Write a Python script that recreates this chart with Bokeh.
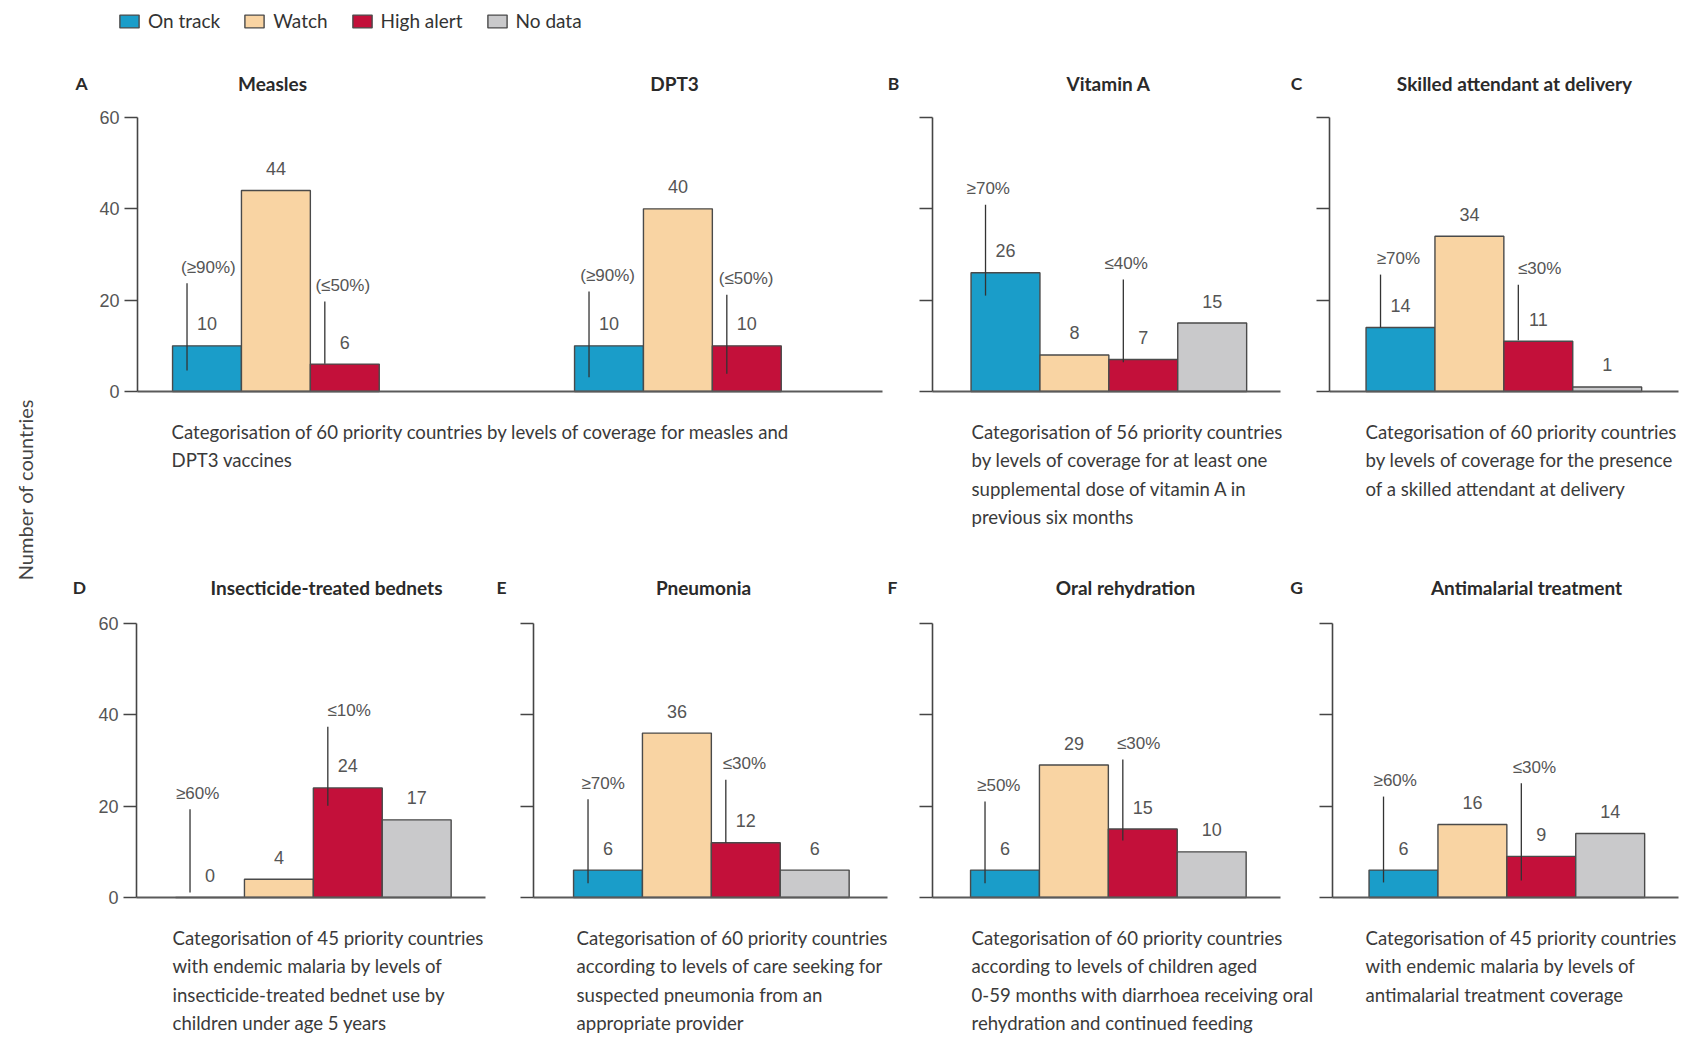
import math
from bokeh.plotting import figure
from bokeh.models import (ColumnDataSource, Range1d, FixedTicker, LinearAxis,
                          Legend, LegendItem)
from bokeh.embed import file_html
from bokeh.resources import INLINE
from bokeh.core.properties import value

# ---------------- data ----------------
statuses = ["On track", "Watch", "High alert", "No data"]
y_ticks = [0, 20, 40, 60]
y_axis_title = "Number of countries"

measles_counts = [10, 44, 6]
dpt3_counts = [10, 40, 10]
vitamin_a_counts = [26, 8, 7, 15]
skilled_counts = [14, 34, 11, 1]
bednet_counts = [0, 4, 24, 17]
pneumonia_counts = [6, 36, 12, 6]
ors_counts = [6, 29, 15, 10]
antimalarial_counts = [6, 16, 9, 14]

measles_cutoffs = ["(\u226590%)", "(\u226450%)"]
dpt3_cutoffs = ["(\u226590%)", "(\u226450%)"]
vitamin_a_cutoffs = ["\u226570%", "\u226440%"]
skilled_cutoffs = ["\u226570%", "\u226430%"]
bednet_cutoffs = ["\u226560%", "\u226410%"]
pneumonia_cutoffs = ["\u226570%", "\u226430%"]
ors_cutoffs = ["\u226550%", "\u226430%"]
antimalarial_cutoffs = ["\u226560%", "\u226430%"]

titles = ["Measles", "DPT3", "Vitamin A", "Skilled attendant at delivery",
          "Insecticide-treated bednets", "Pneumonia", "Oral rehydration",
          "Antimalarial treatment"]
panel_letters = ["A", "B", "C", "D", "E", "F", "G"]

caption_a = ("Categorisation of 60 priority countries by levels of coverage for measles and\n"
             "DPT3 vaccines")
caption_b = ("Categorisation of 56 priority countries\nby levels of coverage for at least one\n"
             "supplemental dose of vitamin A in\nprevious six months")
caption_c = ("Categorisation of 60 priority countries\nby levels of coverage for the presence\n"
             "of a skilled attendant at delivery")
caption_d = ("Categorisation of 45 priority countries\nwith endemic malaria by levels of\n"
             "insecticide-treated bednet use by\nchildren under age 5 years")
caption_e = ("Categorisation of 60 priority countries\naccording to levels of care seeking for\n"
             "suspected pneumonia from an\nappropriate provider")
caption_f = ("Categorisation of 60 priority countries\naccording to levels of children aged\n"
             "0-59 months with diarrhoea receiving oral\nrehydration and continued feeding")
caption_g = ("Categorisation of 45 priority countries\nwith endemic malaria by levels of\n"
             "antimalarial treatment coverage")

# ---------------- styles / layout ----------------
COLORS = {"On track": "#1A9DC9", "Watch": "#F9D4A3", "High alert": "#C3103A", "No data": "#C9C9CB"}
FONT = "Lato"
NUMFONT = "Liberation Sans"
AXIS = "#454545"
BAR_LINE = "#4A4A4A"
LABEL_GREY = "#555555"
TEXT_DARK = "#2A2A2A"
CAPTION_COLOR = "#3A3A3A"

W, H = 1684, 1036
UNIT = 68.9            # px per bar slot
YPX = 274.0 / 60.0     # px per country
TOP_ZERO, BOT_ZERO = 391, 897


def ux(px):
    return px / UNIT


TITLE_Y = {"default": 67.45, "bottom": 67.88}
CAPTION_Y0 = -8.9
CAPTION_STEP = 6.2
LEADER_DX = -0.29
LEADER_GAP = 3.5

p = figure(width=W, height=H, x_range=Range1d(0, W / UNIT),
           y_range=Range1d(-(H - TOP_ZERO) / YPX, TOP_ZERO / YPX),
           x_axis_location=None, y_axis_location=None,
           toolbar_location=None, output_backend="svg", min_border=0)
p.extra_y_ranges = {"bottom": Range1d(-(H - BOT_ZERO) / YPX, BOT_ZERO / YPX)}
p.outline_line_color = None
p.background_fill_color = "white"
p.border_fill_color = "white"
p.xgrid.visible = False
p.ygrid.visible = False

panels = [
    dict(row="default", axis_px=137, end_px=882, letter=panel_letters[0], letter_px=81,
         tick_labels=True, caption=caption_a, caption_px=171,
         groups=[dict(counts=measles_counts, cutoffs=measles_cutoffs, title=titles[0],
                      first_px=206.5, title_px=272, leaders=[(27.2, 4.6, 0.02), (23.2, 6.1, -0.03)]),
                 dict(counts=dpt3_counts, cutoffs=dpt3_cutoffs, title=titles[1],
                      first_px=608.5, title_px=674, leaders=[(25.4, 3.1, -0.02), (24.7, 3.9, -0.01)])]),
    dict(row="default", axis_px=932, end_px=1280, letter=panel_letters[1], letter_px=893,
         tick_labels=False, caption=caption_b, caption_px=971,
         groups=[dict(counts=vitamin_a_counts, cutoffs=vitamin_a_cutoffs, title=titles[2],
                      first_px=1005, title_px=1108, leaders=[(44.4, 21.0, -0.25), (28.0, 6.4, -0.25)])]),
    dict(row="default", axis_px=1329, end_px=1678, letter=panel_letters[2], letter_px=1296,
         tick_labels=False, caption=caption_c, caption_px=1365,
         groups=[dict(counts=skilled_counts, cutoffs=skilled_cutoffs, title=titles[3],
                      first_px=1400, title_px=1514, leaders=[(29.1, 14.0, -0.03), (26.9, 11.2, 0.02)])]),
    dict(row="bottom", axis_px=136, end_px=485, letter=panel_letters[3], letter_px=79,
         tick_labels=True, caption=caption_d, caption_px=172,
         groups=[dict(counts=bednet_counts, cutoffs=bednet_cutoffs, title=titles[4],
                      first_px=209.5, title_px=326, leaders=[(22.8, 1.1, -0.18), (40.9, 20.1, 0.02)])]),
    dict(row="bottom", axis_px=533, end_px=887, letter=panel_letters[4], letter_px=501,
         tick_labels=False, caption=caption_e, caption_px=576,
         groups=[dict(counts=pneumonia_counts, cutoffs=pneumonia_cutoffs, title=titles[5],
                      first_px=607.5, title_px=703, leaders=[(25.0, 3.1, -0.07), (29.3, 12.0, -0.02)])]),
    dict(row="bottom", axis_px=932, end_px=1280, letter=panel_letters[5], letter_px=892,
         tick_labels=False, caption=caption_f, caption_px=971,
         groups=[dict(counts=ors_counts, cutoffs=ors_cutoffs, title=titles[6],
                      first_px=1004.5, title_px=1125, leaders=[(24.5, 3.1, -0.09), (33.7, 12.5, -0.06)])]),
    dict(row="bottom", axis_px=1332, end_px=1678, letter=panel_letters[6], letter_px=1296,
         tick_labels=False, caption=caption_g, caption_px=1365,
         groups=[dict(counts=antimalarial_counts, cutoffs=antimalarial_cutoffs, title=titles[7],
                      first_px=1403, title_px=1526, leaders=[(25.6, 3.3, -0.12), (28.5, 3.7, -0.10)])]),
]

legend_renderer = None

for spec in panels:
    rn = spec["row"]
    # y axis (library axis placed at the panel's position)
    ax = LinearAxis(y_range_name=rn, fixed_location=ux(spec["axis_px"]),
                    ticker=FixedTicker(ticks=y_ticks), bounds=(min(y_ticks), max(y_ticks)))
    ax.axis_line_color = AXIS
    ax.axis_line_width = 1.6
    ax.major_tick_line_color = AXIS
    ax.major_tick_line_width = 1.6
    ax.major_tick_in = 0
    ax.major_tick_out = 13
    ax.minor_tick_line_color = None
    ax.major_label_standoff = 5
    ax.major_label_text_font = NUMFONT
    ax.major_label_text_font_size = "18px"
    ax.major_label_text_color = LABEL_GREY
    if not spec["tick_labels"]:
        ax.major_label_overrides = {float(t): "" for t in y_ticks}
    p.add_layout(ax, "left")
    # baseline (x axis at zero, no ticks)
    bx = LinearAxis(y_range_name=rn, fixed_location=0,
                    bounds=(ux(spec["axis_px"]), ux(spec["end_px"])),
                    ticker=FixedTicker(ticks=[]))
    bx.axis_line_color = "#5A5A5A"
    bx.axis_line_width = 2
    bx.major_tick_line_color = None
    bx.minor_tick_line_color = None
    bx.major_label_text_font_size = "0px"
    p.add_layout(bx, "below")

    for grp in spec["groups"]:
        counts = grp["counts"]
        n = len(counts)
        x0 = ux(grp["first_px"])
        xs = [x0 + i for i in range(n)]
        src = ColumnDataSource(dict(x=xs, top=counts,
                                    color=[COLORS[s] for s in statuses[:n]],
                                    label=[str(c) for c in counts]))
        r = p.vbar(x="x", top="top", bottom=0, width=1.0, fill_color="color",
                   line_color=BAR_LINE, line_width=1.4, source=src, y_range_name=rn)
        if n == len(statuses) and legend_renderer is None:
            legend_renderer = r
        p.text(x="x", y="top", text="label", y_offset=-22, text_align="center",
               text_baseline="middle", text_font=value(NUMFONT), text_font_size="18px",
               text_color=LABEL_GREY, source=src, y_range_name=rn)
        idx = [0, 2]
        lx = [xs[i] + LEADER_DX for i in idx]
        ly_top = [grp["leaders"][k][0] - LEADER_GAP for k in range(2)]
        ly_bot = [grp["leaders"][k][1] for k in range(2)]
        p.segment(x0=lx, y0=ly_bot, x1=lx, y1=ly_top, line_color="#333333",
                  line_width=1.3, y_range_name=rn)
        tsrc = ColumnDataSource(dict(x=[xs[i] + grp["leaders"][k][2] for k, i in enumerate(idx)],
                                     y=[grp["leaders"][k][0] for k in range(2)],
                                     t=grp["cutoffs"]))
        p.text(x="x", y="y", text="t", text_align="center", text_baseline="middle",
               text_font=value(NUMFONT), text_font_size="17px", text_color=LABEL_GREY,
               source=tsrc, y_range_name=rn)
        p.text(x=[ux(grp["title_px"])], y=[TITLE_Y[rn]], text=[grp["title"]], text_align="center",
               text_baseline="middle", text_font=value(FONT), text_font_style="bold",
               text_font_size="19px", text_color=TEXT_DARK, y_range_name=rn)

    lines = spec["caption"].split("\n")
    p.text(x=[ux(spec["caption_px"])] * len(lines),
           y=[CAPTION_Y0 - k * CAPTION_STEP for k in range(len(lines))],
           text=lines, text_align="left", text_baseline="middle",
           text_font=value(FONT), text_font_size="18.6px", text_color=CAPTION_COLOR,
           y_range_name=rn)
    p.text(x=[ux(spec["letter_px"])], y=[TITLE_Y[rn]], text=[spec["letter"]], text_align="center",
           text_baseline="middle", text_font=value(FONT), text_font_style="bold",
           text_font_size="17.5px", text_color=TEXT_DARK, y_range_name=rn)

# shared y-axis title
p.text(x=[ux(24)], y=[(TOP_ZERO - 489) / YPX], text=[y_axis_title], angle=math.pi / 2,
       text_align="center", text_baseline="middle", text_font=value(FONT),
       text_font_size="20px", text_color="#444444")

# legend (uses the four-status bars of panel B)
legend = Legend(items=[LegendItem(label=s, renderers=[legend_renderer], index=i)
                       for i, s in enumerate(statuses)],
                location=(117, 1004), orientation="horizontal",
                glyph_width=24, glyph_height=16, label_standoff=7, spacing=22,
                padding=4, margin=0, border_line_color=None, background_fill_alpha=0,
                label_text_font=FONT, label_text_font_size="19px", label_text_color="#333333")
p.add_layout(legend)

open("out.html", "w").write(file_html(p, INLINE))
